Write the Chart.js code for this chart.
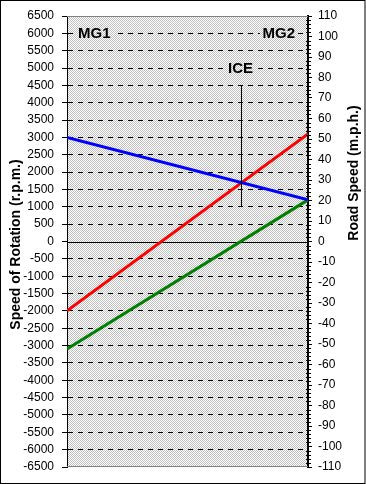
<!DOCTYPE html>
<html>
<head>
<meta charset="utf-8">
<script src="https://cdn.jsdelivr.net/npm/chart.js@4"></script>
<style>
html, body { margin: 0; padding: 0; background: #fff; }
canvas { display: block; }
</style>
</head>
<body>
<canvas id="chart" width="366" height="484"></canvas>
<script>
// Lever positions on the nomograph (MG1 = sun, ICE = carrier, MG2 = ring)
const leverLabels = ['MG1', 'ICE', 'MG2'];
const leverPositions = [0, 0.724, 1];

// Speeds in r.p.m. at the MG1 end and the MG2 end of each lever line
const blueSpeeds = [3000, 1200];
const redSpeeds = [-2000, 3100];
const greenSpeeds = [-3100, 1200];

// ICE marker, r.p.m. span of the vertical line
const iceMarker = [1000, 4500];

// Axis ranges and titles
const rpmRange = [-6500, 6500];
const rpmStep = 500;
const mphRange = [-110, 110];
const mphStep = 10;
const mphMinorStep = 2;
const axisTitles = ['Speed of Rotation (r.p.m.)', 'Road Speed (m.p.h.)'];

const FONT = 'Arial, "Liberation Sans", sans-serif';

// grey/white dither used as the plot area fill
function makeHatch(ctx) {
    const c = document.createElement('canvas');
    c.width = 2;
    c.height = 2;
    const p = c.getContext('2d');
    p.fillStyle = '#ffffff';
    p.fillRect(0, 0, 2, 2);
    p.fillStyle = '#c0c0c0';
    p.fillRect(0, 0, 1, 1);
    p.fillRect(1, 1, 1, 1);
    return ctx.createPattern(c, 'repeat');
}

function lever(speeds) {
    return [
        { x: leverPositions[0], y: speeds[0] },
        { x: leverPositions[2], y: speeds[1] }
    ];
}

// text box with the plot fill behind it, so gridlines stop at the label
function boxedText(ctx, text, px, py, align) {
    const w = ctx.measureText(text).width;
    let left = px;
    if (align === 'center') left = px - w / 2;
    if (align === 'right') left = px - w;
    ctx.save();
    ctx.fillStyle = makeHatch(ctx);
    ctx.fillRect(Math.round(left) - 2, Math.round(py) - 7, Math.round(w) + 4, 14);
    ctx.restore();
    ctx.textAlign = align;
    ctx.fillText(text, px, py);
}

const nomographPlugin = {
    id: 'nomograph',
    beforeDraw(chart) {
        const { ctx, chartArea: a, width, height } = chart;
        ctx.save();
        ctx.fillStyle = '#ffffff';
        ctx.fillRect(0, 0, width, height);
        ctx.fillStyle = makeHatch(ctx);
        ctx.fillRect(a.left, a.top, a.right - a.left, a.bottom - a.top);
        ctx.restore();
    },
    beforeDatasetsDraw(chart) {
        const { ctx, chartArea: a, scales } = chart;
        const x = scales.x, y = scales.y;
        ctx.save();
        ctx.lineWidth = 1;
        // solid zero line
        const y0 = Math.round(y.getPixelForValue(0)) + 0.5;
        ctx.strokeStyle = '#000';
        ctx.beginPath();
        ctx.moveTo(a.left, y0);
        ctx.lineTo(a.right, y0);
        ctx.stroke();
        // grey top and bottom edges of the plot area
        ctx.strokeStyle = '#808080';
        ctx.beginPath();
        ctx.moveTo(a.left, Math.round(a.top) + 0.5);
        ctx.lineTo(a.right, Math.round(a.top) + 0.5);
        ctx.moveTo(a.left, Math.round(a.bottom) - 0.5);
        ctx.lineTo(a.right, Math.round(a.bottom) - 0.5);
        ctx.stroke();

        // lever labels
        ctx.fillStyle = '#000';
        ctx.font = 'bold 15px ' + FONT;
        ctx.textBaseline = 'middle';
        boxedText(ctx, leverLabels[0], x.getPixelForValue(leverPositions[0]) + 11, y.getPixelForValue(6000) + 1, 'left');
        boxedText(ctx, leverLabels[1], x.getPixelForValue(leverPositions[1]) - 1, y.getPixelForValue(5000) + 1, 'center');
        boxedText(ctx, leverLabels[2], x.getPixelForValue(leverPositions[2]) - 13, y.getPixelForValue(6000) + 1, 'right');
        ctx.restore();
    },
    afterDraw(chart) {
        const { ctx, chartArea: a, scales, width, height } = chart;
        const y = scales.y, y2 = scales.y2;
        ctx.save();

        // minor ticks on the road speed axis
        ctx.strokeStyle = '#000';
        ctx.lineWidth = 1;
        ctx.beginPath();
        for (let v = mphRange[0]; v <= mphRange[1]; v += mphMinorStep) {
            if (v % mphStep === 0) continue;
            const py = Math.round(y2.getPixelForValue(v)) + 0.5;
            ctx.moveTo(a.right - 2, py);
            ctx.lineTo(a.right + 3, py);
        }
        ctx.stroke();

        // axis titles, both reading bottom to top
        ctx.fillStyle = '#000';
        ctx.font = 'bold 14px ' + FONT;
        ctx.textAlign = 'center';
        ctx.textBaseline = 'middle';
        ctx.translate(y.left + 16, (a.top + a.bottom) / 2 + 3);
        ctx.rotate(-Math.PI / 2);
        ctx.fillText(axisTitles[0], 0, 0);
        ctx.setTransform(1, 0, 0, 1, 0, 0);
        ctx.translate(y2.right - 12, a.top + 157);
        ctx.rotate(-Math.PI / 2);
        ctx.fillText(axisTitles[1], 0, 0);
        ctx.setTransform(1, 0, 0, 1, 0, 0);

        // outer frame
        ctx.strokeStyle = '#000';
        ctx.lineWidth = 1;
        ctx.strokeRect(0.5, 0.5, width - 1.5, height - 1);
        ctx.restore();
    }
};

Chart.defaults.font.family = FONT;
Chart.defaults.font.size = 12;
Chart.defaults.color = '#000';

new Chart(document.getElementById('chart'), {
    type: 'line',
    data: {
        datasets: [
            {
                label: 'ICE',
                data: iceMarker.map(v => ({ x: leverPositions[1], y: v })),
                borderColor: '#000000',
                borderWidth: 1
            },
            {
                label: 'Blue',
                data: lever(blueSpeeds),
                borderColor: '#0000ff',
                borderWidth: 3
            },
            {
                label: 'Red',
                data: lever(redSpeeds),
                borderColor: '#ff0000',
                borderWidth: 3
            },
            {
                label: 'Green',
                data: lever(greenSpeeds),
                borderColor: '#008000',
                borderWidth: 3
            }
        ]
    },
    options: {
        responsive: false,
        animation: false,
        events: [],
        layout: { padding: { top: 16, bottom: 17, left: 0, right: 0 } },
        elements: {
            point: { radius: 0 },
            line: { tension: 0, borderCapStyle: 'butt' }
        },
        plugins: {
            legend: { display: false },
            tooltip: { enabled: false }
        },
        scales: {
            x: {
                type: 'linear',
                display: false,
                min: leverPositions[0],
                max: leverPositions[2]
            },
            y: {
                position: 'left',
                min: rpmRange[0],
                max: rpmRange[1],
                afterFit(scale) { scale.width = 67; },
                ticks: {
                    stepSize: rpmStep,
                    autoSkip: false,
                    padding: 8,
                    callback: v => String(v)
                },
                grid: {
                    color: ctx => (ctx.tick && (ctx.tick.value === 0 || Math.abs(ctx.tick.value) === rpmRange[1])) ? 'rgba(0,0,0,0)' : '#000',
                    tickColor: '#000',
                    tickLength: 5,
                    tickBorderDash: [],
                    lineWidth: 1
                },
                border: { display: true, color: '#000', width: 1, dash: [5, 5] }
            },
            y2: {
                position: 'right',
                min: mphRange[0],
                max: mphRange[1],
                afterFit(scale) { scale.width = 58; },
                ticks: {
                    stepSize: mphStep,
                    autoSkip: false,
                    padding: 6,
                    callback: v => String(v)
                },
                grid: {
                    drawOnChartArea: false,
                    tickColor: '#000',
                    tickLength: 4
                },
                border: { display: true, color: '#000', width: 2 }
            }
        }
    },
    plugins: [nomographPlugin]
});
</script>
</body>
</html>
